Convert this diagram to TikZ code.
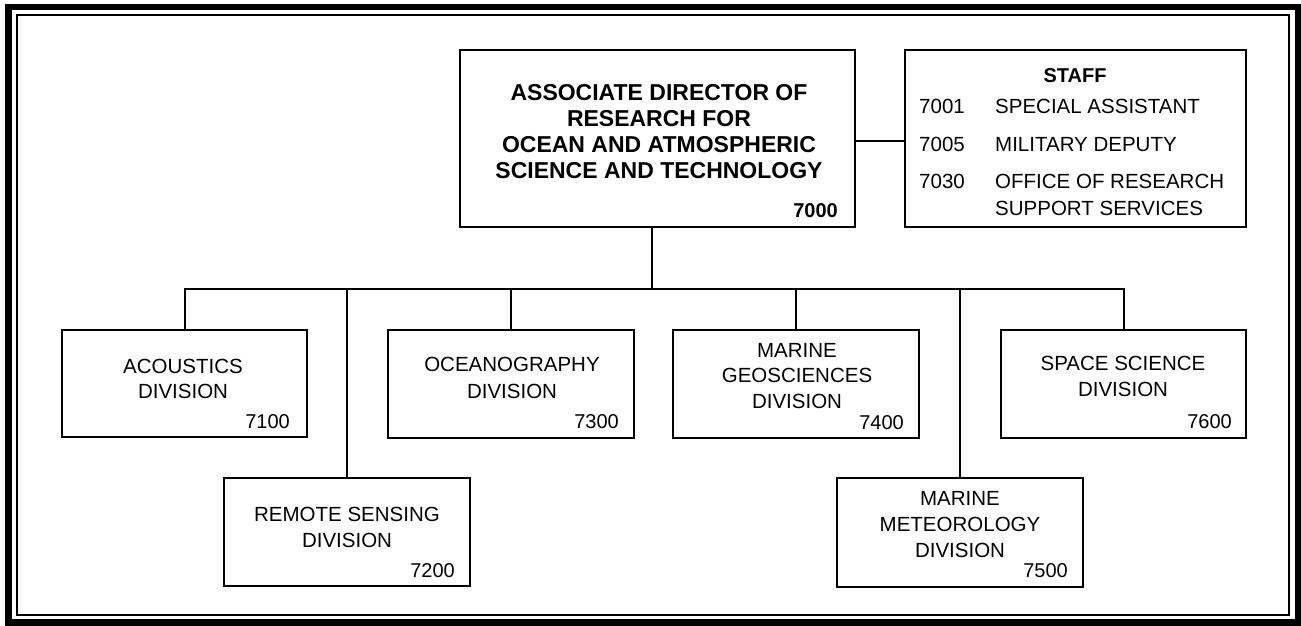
\documentclass[tikz,border=0pt]{standalone}
\usepackage{fontspec}
\setmainfont{Liberation Sans}
\begin{document}
\begin{tikzpicture}[x=1pt,y=-1pt,
  box/.style={draw, line width=2.4pt, inner sep=0pt},
  conn/.style={line width=2pt},
  lbl/.style={inner sep=0pt, anchor=base, font=\fontsize{20.5}{25}\selectfont},
  num/.style={inner sep=0pt, anchor=base east, font=\fontsize{20}{24}\selectfont},
  blbl/.style={inner sep=0pt, anchor=base, font=\fontsize{23}{26}\selectfont\bfseries},
  slbl/.style={inner sep=0pt, anchor=base west, font=\fontsize{20.5}{25}\selectfont}]
\useasboundingbox (0,0) rectangle (1301,625);
% frame
\draw[line width=6.5pt] (8.5,7) rectangle (1298,622.5);
\draw[line width=2pt] (17,15) rectangle (1289,615);
% boxes
\node[box, minimum width=395pt, minimum height=177pt] (top) at (657.5,138.5) {};
\node[box, minimum width=341pt, minimum height=177pt] (staff) at (1075.5,138.5) {};
\node[box, minimum width=245pt, minimum height=107pt] (acou) at (184.5,383.5) {};
\node[box, minimum width=246pt, minimum height=108pt] (ocean) at (511,384) {};
\node[box, minimum width=246pt, minimum height=108pt] (geo) at (796,384) {};
\node[box, minimum width=245pt, minimum height=108pt] (space) at (1123.5,384) {};
\node[box, minimum width=246pt, minimum height=108pt] (remote) at (347,532) {};
\node[box, minimum width=246pt, minimum height=109pt] (meteo) at (960,532.5) {};
% connectors
\coordinate (bus) at (652,289);
\draw[conn] (bus |- top.south) -- (bus);
\draw[conn] (acou.north) -- (acou.north |- bus) -- (space.north |- bus) -- (space.north);
\draw[conn] (ocean.north |- bus) -- (ocean.north);
\draw[conn] (geo.north |- bus) -- (geo.north);
\draw[conn] (remote.north |- bus) -- (remote.north);
\draw[conn] (meteo.north |- bus) -- (meteo.north);
\coordinate (sy) at (0,141);
\draw[conn] (top.east |- sy) -- (staff.west |- sy);
% top box text
\node[blbl] (t1) at (659,100) {ASSOCIATE DIRECTOR OF};
\node[blbl] (t2) at (659,126) {RESEARCH FOR};
\node[blbl] (t3) at (659,152) {OCEAN AND ATMOSPHERIC};
\node[blbl] (t4) at (659,178) {SCIENCE AND TECHNOLOGY};
\node[num, font=\fontsize{20}{24}\selectfont\bfseries] (t5) at (838,217) {7000};
% staff text
\node[blbl, font=\fontsize{20}{24}\selectfont\bfseries] (s0) at (1075,82) {STAFF};
\node[slbl] (s1n) at (919,113) {7001};
\node[slbl] (s1) at (995,113) {SPECIAL ASSISTANT};
\node[slbl] (s2n) at (919,151) {7005};
\node[slbl] (s2) at (995,151) {MILITARY DEPUTY};
\node[slbl] (s3n) at (919,188) {7030};
\node[slbl] (s3) at (995,188) {OFFICE OF RESEARCH};
\node[slbl] (s4) at (995,215) {SUPPORT SERVICES};
% acoustics
\node[lbl] (a1) at (183,373) {ACOUSTICS};
\node[lbl] (a2) at (183,398) {DIVISION};
\node[num] (a3) at (290,428) {7100};
% oceanography
\node[lbl] (o1) at (512,371) {OCEANOGRAPHY};
\node[lbl] (o2) at (512,398) {DIVISION};
\node[num] (o3) at (619,428) {7300};
% geosciences
\node[lbl] (g1) at (797,357) {MARINE};
\node[lbl] (g2) at (797,382) {GEOSCIENCES};
\node[lbl] (g3) at (797,408) {DIVISION};
\node[num] (g4) at (904,429) {7400};
% space
\node[lbl] (p1) at (1123,370) {SPACE SCIENCE};
\node[lbl] (p2) at (1123,396) {DIVISION};
\node[num] (p3) at (1232,428) {7600};
% remote
\node[lbl] (r1) at (347,521) {REMOTE SENSING};
\node[lbl] (r2) at (347,547) {DIVISION};
\node[num] (r3) at (455,577) {7200};
% meteorology
\node[lbl] (m1) at (960,505) {MARINE};
\node[lbl] (m2) at (960,531) {METEOROLOGY};
\node[lbl] (m3) at (960,557) {DIVISION};
\node[num] (m4) at (1068,577) {7500};
\end{tikzpicture}
\end{document}
